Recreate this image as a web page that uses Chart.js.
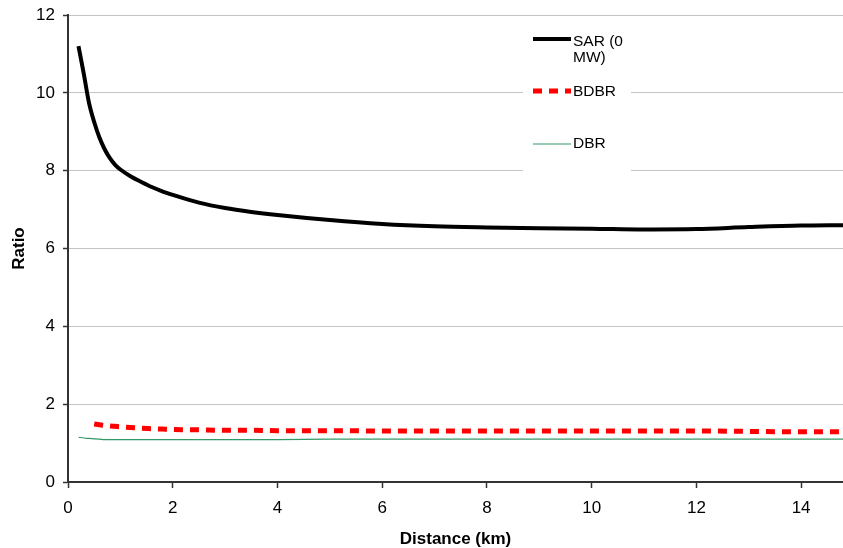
<!DOCTYPE html>
<html>
<head>
<meta charset="utf-8">
<script src="https://cdn.jsdelivr.net/npm/chart.js@4.4.1/dist/chart.umd.min.js"></script>
<style>
  body { margin: 0; background: #fff; }
  canvas { display: block; }
</style>
</head>
<body>
<canvas id="myChart" width="843" height="548"></canvas>
<script>
// distances in km, shared by all three series
var distanceKm = [0.2, 0.3, 0.4, 0.5, 0.6, 0.7, 0.8, 0.9, 1.0, 1.2, 1.4, 1.6, 1.8, 2.0, 2.5, 3, 3.5, 4, 5, 6, 7, 8, 9, 10, 11, 12, 13, 14, 14.8];
var sarValues = [11.2, 10.5, 9.75, 9.25, 8.85, 8.55, 8.32, 8.15, 8.03, 7.85, 7.71, 7.58, 7.47, 7.38, 7.18, 7.04, 6.94, 6.86, 6.73, 6.63, 6.57, 6.54, 6.52, 6.51, 6.49, 6.50, 6.55, 6.59, 6.60];
var bdbrValues = [null, null, null, 1.49, 1.47, 1.45, 1.44, 1.43, 1.42, 1.40, 1.38, 1.37, 1.36, 1.35, 1.34, 1.33, 1.33, 1.32, 1.32, 1.31, 1.31, 1.31, 1.31, 1.31, 1.31, 1.31, 1.30, 1.29, 1.29];
var dbrValues = [1.15, 1.13, 1.12, 1.11, 1.10, 1.09, 1.09, 1.09, 1.09, 1.09, 1.09, 1.09, 1.09, 1.09, 1.09, 1.09, 1.09, 1.09, 1.10, 1.10, 1.10, 1.10, 1.10, 1.10, 1.10, 1.10, 1.10, 1.10, 1.10];
var seriesNames = [["SAR (0", "MW)"], ["BDBR"], ["DBR"]];
var xTicks = [0, 2, 4, 6, 8, 10, 12, 14];

function toPoints(vals) {
    var pts = [];
    for (var i = 0; i < distanceKm.length; i++) {
        if (vals[i] !== null) pts.push({ x: distanceKm[i], y: vals[i] });
    }
    return pts;
}

var fontName = "'Liberation Sans', Arial, sans-serif";

// legend box sitting inside the plot, drawn over the gridlines
var boxLegend = {
    id: "boxLegend",
    beforeDatasetsDraw: function(chart) {
        var ctx = chart.ctx;
        ctx.save();
        ctx.fillStyle = "#fff";
        ctx.fillRect(523, 17, 108, 162);
        var rows = [39, 91, 144];
        var textRows = [41.5, 91.5, 144];
        ctx.font = "15.5px " + fontName;
        ctx.textBaseline = "middle";
        ctx.fillStyle = "#000";
        chart.data.datasets.forEach(function(ds, i) {
            var y = rows[i];
            ctx.strokeStyle = ds.borderColor;
            ctx.lineWidth = ds.borderWidth;
            ctx.setLineDash(ds.borderDash || []);
            ctx.beginPath();
            ctx.moveTo(533, y);
            ctx.lineTo(571, y);
            ctx.stroke();
            ctx.setLineDash([]);
            ds.label.forEach(function(line, j) {
                ctx.fillText(line, 573, textRows[i] + j * 16);
            });
        });
        ctx.restore();
    }
};

new Chart("myChart", {
    type: "line",
    data: {
        datasets: [{
            label: seriesNames[0],
            data: toPoints(sarValues),
            borderColor: "#000",
            borderWidth: 4,
            cubicInterpolationMode: "monotone"
        }, {
            label: seriesNames[1],
            data: toPoints(bdbrValues),
            borderColor: "#ff0000",
            borderWidth: 5,
            borderDash: [9, 7],
            cubicInterpolationMode: "monotone"
        }, {
            label: seriesNames[2],
            data: toPoints(dbrValues),
            borderColor: "#339966",
            borderWidth: 1.2,
            cubicInterpolationMode: "monotone"
        }]
    },
    options: {
        responsive: false,
        animation: false,
        layout: { padding: { top: 15, right: 0, left: 0, bottom: 0 } },
        elements: { point: { radius: 0 } },
        plugins: {
            legend: { display: false },
            tooltip: { enabled: false }
        },
        scales: {
            x: {
                type: "linear",
                min: 0,
                max: 14.8,
                afterBuildTicks: function(scale) {
                    scale.ticks = xTicks.map(function(v) { return { value: v }; });
                },
                afterFit: function(scale) {
                    scale.height = 66;
                    scale.paddingLeft = 0;
                    scale.paddingRight = 0;
                },
                grid: {
                    drawOnChartArea: false,
                    drawTicks: true,
                    tickLength: 6,
                    tickColor: "#333",
                    tickWidth: 1.5
                },
                border: { color: "#333", width: 2 },
                ticks: {
                    color: "#000",
                    padding: 10,
                    maxRotation: 0,
                    font: { family: fontName, size: 17 }
                },
                title: {
                    display: true,
                    text: "Distance (km)",
                    color: "#000",
                    padding: { top: 0, bottom: -2 },
                    font: { family: fontName, size: 17, weight: "bold" }
                }
            },
            y: {
                min: 0,
                max: 12,
                afterFit: function(scale) {
                    scale.width = 68;
                    scale.paddingTop = 0;
                    scale.paddingBottom = 0;
                },
                grid: {
                    color: "#c4c4c4",
                    lineWidth: 1,
                    tickLength: 5,
                    tickColor: "#333",
                    tickWidth: 1.5
                },
                border: { color: "#333", width: 2 },
                ticks: {
                    stepSize: 2,
                    color: "#000",
                    padding: 8,
                    font: { family: fontName, size: 17 }
                },
                title: {
                    display: true,
                    text: "Ratio",
                    color: "#000",
                    padding: { top: 9, bottom: 0 },
                    font: { family: fontName, size: 17, weight: "bold" }
                }
            }
        }
    },
    plugins: [boxLegend]
});
</script>
</body>
</html>
